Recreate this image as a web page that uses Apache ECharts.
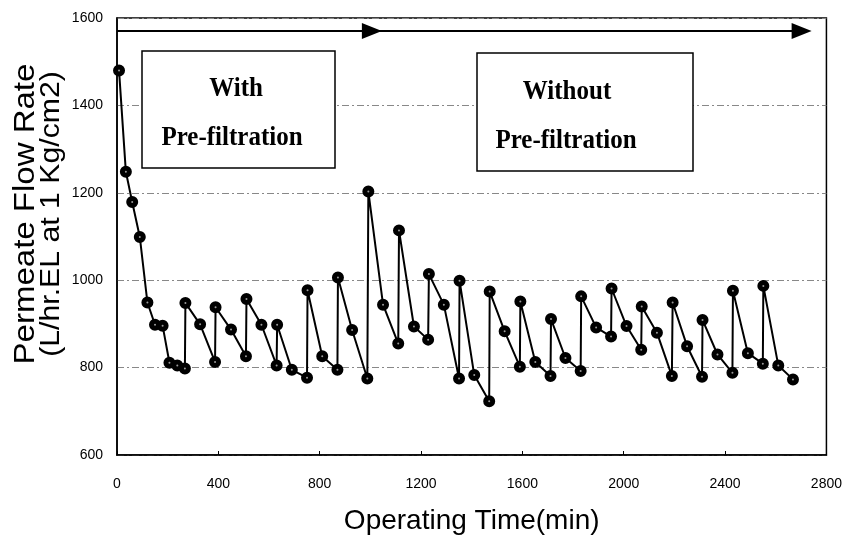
<!DOCTYPE html>
<html>
<head>
<meta charset="utf-8">
<script src="https://cdn.jsdelivr.net/npm/echarts@6/dist/echarts.min.js"></script>
<style>
  html, body { margin: 0; padding: 0; background: #fff; }
  #myChart { width: 845px; height: 540px; }
</style>
</head>
<body>
<div id="myChart"></div>
<script>
  // operating time (min) and permeate flow rate
  const timeMin = [8, 35, 60, 90, 120, 150, 180, 207, 238, 268, 270, 328, 387, 389, 450, 509, 511, 570,
    630, 632, 690, 750, 752, 810, 870, 872, 928, 988, 992, 1050, 1110, 1113, 1172, 1228, 1231, 1290,
    1350, 1352, 1410, 1469, 1471, 1530, 1590, 1592, 1651, 1711, 1713, 1770, 1830, 1832, 1891, 1950,
    1952, 2011, 2069, 2071, 2131, 2190, 2193, 2250, 2309, 2311, 2370, 2429, 2431, 2490, 2549, 2551,
    2610, 2668];
  const flowRate = [1480, 1248, 1179, 1099, 949, 898, 896, 811, 805, 798, 948, 899, 813, 938, 887, 826, 957, 898,
    805, 898, 795, 777, 977, 826, 795, 1006, 886, 775, 1203, 944, 855, 1114, 894, 864, 1014, 944,
    775, 999, 783, 723, 974, 883, 802, 951, 813, 781, 911, 822, 792, 963, 892, 871,
    981, 895, 841, 940, 880, 781, 949, 849, 779, 909, 830, 788, 976, 833, 809, 987,
    805, 773];

  // phase arrows along the top (time at arrow head, flow level of the arrow line)
  const arrowLevel = 1570;
  const phaseArrows = [[0, 1006], [1006, 2702]];

  const seriesData = timeMin.map((t, i) => [t, flowRate[i]]);

  const myChart = echarts.init(document.getElementById('myChart'));

  const tickFont = { fontFamily: "'Liberation Sans', Arial", fontSize: 14, color: '#000', formatter: v => String(v) };
  const boxFont = "bold 25px 'Liberation Serif', 'Times New Roman', serif";

  myChart.setOption({
    animation: false,
    backgroundColor: '#fff',
    grid: {
      left: 117,
      right: 18,
      top: 18,
      bottom: 82,
      show: true,
      borderColor: '#000',
      borderWidth: 1.5
    },
    xAxis: {
      type: 'value',
      min: 0,
      max: 2800,
      interval: 400,
      name: 'Operating Time(min)',
      nameLocation: 'middle',
      nameGap: 52,
      nameTextStyle: { fontFamily: "'Liberation Sans', Arial", fontSize: 28, color: '#000' },
      axisLine: { lineStyle: { color: '#000', width: 1.5 } },
      axisTick: { inside: true, length: 4, lineStyle: { color: '#000' } },
      axisLabel: Object.assign({ margin: 22 }, tickFont),
      splitLine: { show: false }
    },
    yAxis: {
      type: 'value',
      min: 600,
      max: 1600,
      interval: 200,
      axisLine: { show: true, lineStyle: { color: '#000', width: 1.5 } },
      axisTick: { show: false },
      axisLabel: Object.assign({ margin: 14 }, tickFont),
      splitLine: { lineStyle: { color: '#888', width: 1, type: [7, 3, 2, 3] } }
    },
    series: [
      {
        type: 'line',
        data: seriesData,
        symbol: 'circle',
        symbolSize: 7,
        showAllSymbol: true,
        lineStyle: { color: '#000', width: 2 },
        itemStyle: { color: '#999', borderColor: '#000', borderWidth: 5 },
        z: 5,
        markLine: {
          silent: true,
          symbol: ['none', 'triangle'],
          symbolSize: [16, 20],
          label: { show: false },
          lineStyle: { type: 'solid', color: '#000', width: 2 },
          itemStyle: { color: '#000' },
          data: phaseArrows.map(a => [{ coord: [a[0], arrowLevel] }, { coord: [a[1], arrowLevel] }])
        }
      }
    ],
    graphic: [
      // y axis title, two lines
      {
        type: 'text', x: 26, y: 214, rotation: Math.PI / 2, scaleX: 1.1,
        style: { text: 'Permeate Flow Rate', font: "30px 'Liberation Sans', Arial", fill: '#000', textAlign: 'center', textVerticalAlign: 'middle' }
      },
      {
        type: 'text', x: 52, y: 214, rotation: Math.PI / 2, scaleX: 1.12,
        style: { text: '(L/hr.EL at 1 Kg/cm2)', font: "27px 'Liberation Sans', Arial", fill: '#000', textAlign: 'center', textVerticalAlign: 'middle' }
      },
      // phase boxes
      {
        type: 'rect', z: 10,
        shape: { x: 142, y: 51, width: 193, height: 117 },
        style: { fill: '#fff', stroke: '#000', lineWidth: 1.5 }
      },
      {
        type: 'text', z: 11, x: 236, y: 89, scaleY: 1.12,
        style: { text: 'With', font: boxFont, fill: '#000', textAlign: 'center', textVerticalAlign: 'middle' }
      },
      {
        type: 'text', z: 11, x: 232, y: 138, scaleY: 1.12,
        style: { text: 'Pre-filtration', font: boxFont, fill: '#000', textAlign: 'center', textVerticalAlign: 'middle' }
      },
      {
        type: 'rect', z: 10,
        shape: { x: 477, y: 53, width: 216, height: 118 },
        style: { fill: '#fff', stroke: '#000', lineWidth: 1.5 }
      },
      {
        type: 'text', z: 11, x: 567, y: 92, scaleY: 1.12,
        style: { text: 'Without', font: boxFont, fill: '#000', textAlign: 'center', textVerticalAlign: 'middle' }
      },
      {
        type: 'text', z: 11, x: 566, y: 141, scaleY: 1.12,
        style: { text: 'Pre-filtration', font: boxFont, fill: '#000', textAlign: 'center', textVerticalAlign: 'middle' }
      }
    ]
  });
</script>
</body>
</html>
